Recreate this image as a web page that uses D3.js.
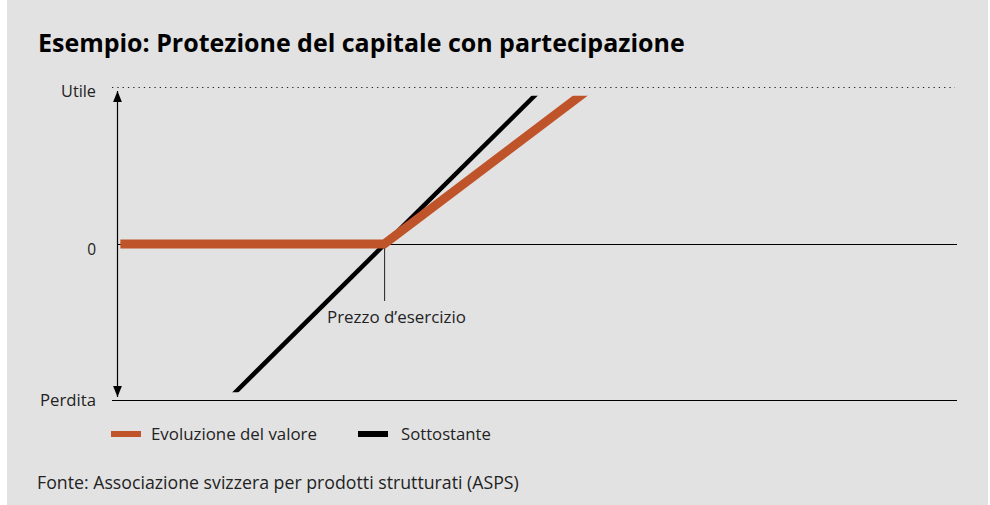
<!DOCTYPE html>
<html>
<head>
<meta charset="utf-8">
<script src="https://cdn.jsdelivr.net/npm/d3@7"></script>
<style>
  body { margin: 0; background: #fff; }
  svg { display: block; font-family: "Open Sans", "Noto Sans", sans-serif; }
</style>
</head>
<body>
<svg id="chart"></svg>
<script>
// payoff diagram values (x: price of underlying, y: profit/loss, -1 = Perdita, 1 = Utile)
const yTicks = [ { v: 1, label: "Utile" }, { v: 0, label: "0" }, { v: -1, label: "Perdita" } ];
const strike = 31.8;
const valueLine = [ { x: 0.4, y: 0 }, { x: 31.8, y: 0 }, { x: 56.0, y: 0.985 } ];
const underlyingLine = [ { x: 14, y: -0.955 }, { x: 49.8, y: 0.955 } ];
const legendItems = [
  { name: "Evoluzione del valore", color: "#bf5329" },
  { name: "Sottostante", color: "#000" }
];

const W = 990, H = 505;
const svg = d3.select("#chart").attr("width", W).attr("height", H);

// scale a text's font size so that it spans the measured width
function fit(sel, target) {
  const fs = +sel.attr("font-size");
  const w = sel.node().getComputedTextLength();
  sel.attr("font-size", (fs * target / w).toFixed(2));
}

svg.append("rect")
  .attr("x", 7).attr("y", 0)
  .attr("width", 981).attr("height", H)
  .attr("fill", "#e2e2e2");

svg.append("text")
  .attr("x", 38).attr("y", 52)
  .attr("font-size", 22).attr("font-weight", "bold")
  .attr("fill", "#000")
  .text("Esempio: Protezione del capitale con partecipazione")
  .call(fit, 647);

const x = d3.scaleLinear().domain([0, 100]).range([117, 957]);
const y = d3.scaleLinear().domain([-1, 1]).range([400, 88]);

// gridlines
svg.append("line")
  .attr("x1", 112).attr("x2", 955)
  .attr("y1", y(1) - 0.5).attr("y2", y(1) - 0.5)
  .attr("stroke", "#222").attr("stroke-width", 1.2)
  .attr("stroke-dasharray", "1.3 4");
svg.append("line")
  .attr("x1", x(0)).attr("x2", x(100))
  .attr("y1", y(0) + 0.5).attr("y2", y(0) + 0.5)
  .attr("stroke", "#000").attr("stroke-width", 1);
svg.append("line")
  .attr("x1", 112).attr("x2", x(100))
  .attr("y1", y(-1) + 0.5).attr("y2", y(-1) + 0.5)
  .attr("stroke", "#000").attr("stroke-width", 1.2);

// double arrow axis
const defs = svg.append("defs");
defs.append("marker")
  .attr("id", "arrow")
  .attr("viewBox", "0 0 10 10")
  .attr("refX", 10).attr("refY", 5)
  .attr("markerWidth", 11).attr("markerHeight", 11)
  .attr("markerUnits", "userSpaceOnUse")
  .attr("orient", "auto-start-reverse")
  .append("path")
  .attr("d", "M0,1 L10,5 L0,9 Z")
  .attr("fill", "#000");

svg.append("line")
  .attr("x1", x(0) + 0.5).attr("x2", x(0) + 0.5)
  .attr("y1", y(1) + 3).attr("y2", y(-1) - 3)
  .attr("stroke", "#000").attr("stroke-width", 1.2)
  .attr("marker-start", "url(#arrow)")
  .attr("marker-end", "url(#arrow)");

const labelDy = [9, 11, 6];
const labelW = [35, 10, 56];
svg.selectAll(".ylab")
  .data(yTicks)
  .enter().append("text")
  .attr("class", "ylab")
  .attr("x", 96)
  .attr("y", (d, i) => y(d.v) + labelDy[i])
  .attr("text-anchor", "end")
  .attr("font-size", 15.5)
  .attr("fill", "#222")
  .text(d => d.label)
  .each(function(d, i) { if (i !== 1) d3.select(this).call(fit, labelW[i]); });

// strike marker
svg.append("line")
  .attr("x1", x(strike) + 0.5).attr("x2", x(strike) + 0.5)
  .attr("y1", y(0)).attr("y2", 301)
  .attr("stroke", "#222").attr("stroke-width", 1);
svg.append("text")
  .attr("x", 327).attr("y", 323)
  .attr("font-size", 15).attr("fill", "#222")
  .text("Prezzo d\u2019esercizio")
  .call(fit, 139);

defs.append("clipPath").attr("id", "plotclip")
  .append("rect")
  .attr("x", x(0)).attr("y", y(0.95))
  .attr("width", x(100) - x(0)).attr("height", y(-0.95) - y(0.95));

const line = d3.line().x(d => x(d.x)).y(d => y(d.y));

svg.append("path")
  .datum(underlyingLine)
  .attr("d", line)
  .attr("fill", "none")
  .attr("stroke", "#000").attr("stroke-width", 4.5)
  .attr("stroke-linecap", "square")
  .attr("clip-path", "url(#plotclip)");

svg.append("path")
  .datum(valueLine)
  .attr("d", line)
  .attr("fill", "none")
  .attr("stroke", "#bf5329").attr("stroke-width", 9)
  .attr("stroke-linejoin", "miter")
  .attr("stroke-linecap", "butt")
  .attr("clip-path", "url(#plotclip)");

// legend
const legend = svg.append("g").attr("transform", "translate(111,434)");
const legendX = [0, 247];
const legendW = [166, 90];
legendItems.forEach((item, i) => {
  const row = legend.append("g").attr("transform", `translate(${legendX[i]},0)`);
  row.append("rect")
    .attr("x", 0).attr("y", -3)
    .attr("width", 30).attr("height", 6)
    .attr("fill", item.color);
  row.append("text")
    .attr("x", i === 0 ? 40 : 43).attr("y", 6)
    .attr("font-size", 15).attr("fill", "#222")
    .text(item.name)
    .call(fit, legendW[i]);
});

svg.append("text")
  .attr("x", 37).attr("y", 489)
  .attr("font-size", 15).attr("fill", "#222")
  .text("Fonte: Associazione svizzera per prodotti strutturati (ASPS)")
  .call(fit, 482);
</script>
</body>
</html>
